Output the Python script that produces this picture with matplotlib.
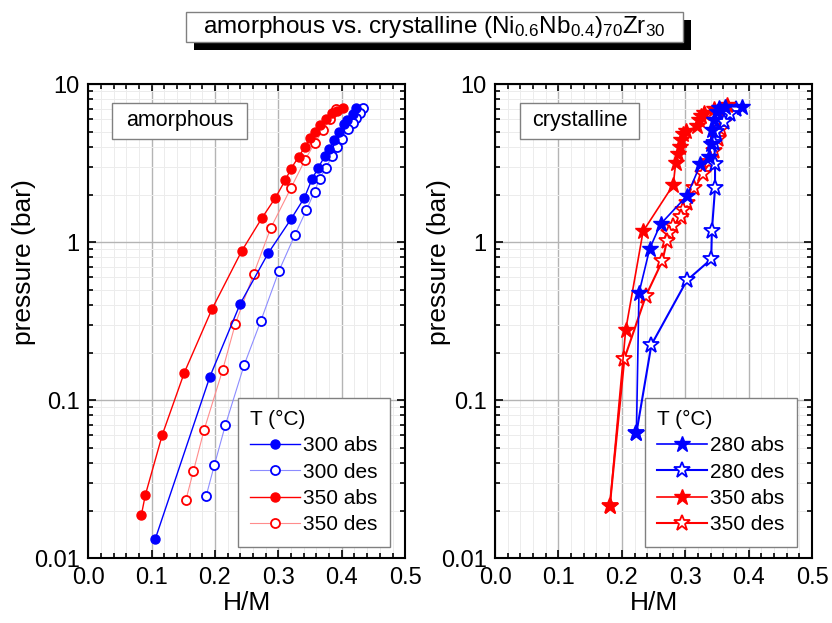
import matplotlib
matplotlib.use("Agg")
import matplotlib.pyplot as plt
from matplotlib.patches import Rectangle
from matplotlib.ticker import MultipleLocator, LogLocator, NullFormatter, FixedLocator, FixedFormatter

plt.rcParams['font.family'] = ['Liberation Sans', 'DejaVu Sans']
plt.rcParams['mathtext.fontset'] = 'custom'
plt.rcParams['mathtext.rm'] = 'Liberation Sans'
plt.rcParams['mathtext.it'] = 'Liberation Sans:italic'

# ---- amorphous data (H/M, pressure in bar) ----
abs300_x = [0.106, 0.192, 0.240, 0.284, 0.320, 0.341, 0.353, 0.3625, 0.373, 0.380, 0.388, 0.396, 0.403, 0.408, 0.417, 0.422]
abs300_p = [0.0133, 0.141, 0.409, 0.852, 1.40, 1.91, 2.50, 2.94, 3.49, 3.88, 4.43, 4.97, 5.59, 5.92, 6.46, 7.02]

des300_x = [0.434, 0.429, 0.423, 0.418, 0.410, 0.400, 0.392, 0.385, 0.375, 0.365, 0.357, 0.344, 0.326, 0.301, 0.272, 0.246, 0.2165, 0.199, 0.186]
des300_p = [7.02, 6.53, 6.07, 5.65, 5.17, 4.51, 3.98, 3.52, 2.96, 2.52, 2.09, 1.59, 1.11, 0.659, 0.315, 0.167, 0.0698, 0.0388, 0.0247]

abs350_x = [0.0838, 0.090, 0.117, 0.1515, 0.195, 0.242, 0.274, 0.295, 0.311, 0.320, 0.332, 0.342, 0.350, 0.358, 0.365, 0.375, 0.384, 0.393, 0.402]
abs350_p = [0.0187, 0.0250, 0.0606, 0.149, 0.375, 0.877, 1.42, 1.90, 2.47, 2.92, 3.47, 4.02, 4.58, 4.98, 5.48, 6.04, 6.53, 6.78, 7.08]

des350_x = [0.391, 0.381, 0.371, 0.357, 0.342, 0.320, 0.288, 0.261, 0.232, 0.212, 0.183, 0.166, 0.154]
des350_p = [6.92, 6.01, 5.14, 4.22, 3.31, 2.21, 1.23, 0.630, 0.303, 0.155, 0.0652, 0.0356, 0.0233]

# ---- crystalline data ----
abs280_x = [0.223, 0.227, 0.244, 0.261, 0.303, 0.324, 0.338, 0.340, 0.343, 0.346, 0.350, 0.354, 0.362, 0.390]
abs280_p = [0.062, 0.476, 0.911, 1.30, 1.97, 3.11, 3.47, 4.2, 5.12, 5.93, 6.68, 7.02, 7.19, 7.19]

des280_x = [0.380, 0.370, 0.3615, 0.349, 0.346, 0.347, 0.347, 0.342, 0.341, 0.3025, 0.2466, 0.223]
des280_p = [6.95, 6.5, 5.78, 5.0, 4.22, 3.11, 2.19, 1.18, 0.781, 0.572, 0.224, 0.062]

abs350c_x = [0.181, 0.206, 0.2335, 0.281, 0.285, 0.288, 0.291, 0.294, 0.297, 0.301, 0.319, 0.322, 0.325, 0.329, 0.345, 0.366]
abs350c_p = [0.0214, 0.277, 1.17, 2.30, 3.16, 3.6, 4.0, 4.4, 4.8, 5.05, 5.4, 5.9, 6.3, 6.6, 7.0, 7.4]

des350c_x = [0.368, 0.364, 0.360, 0.356, 0.351, 0.345, 0.338, 0.328, 0.3146, 0.3025, 0.297, 0.294, 0.280, 0.274, 0.271, 0.264, 0.238, 0.204, 0.181]
des350c_p = [7.1, 6.5, 5.8, 5.2, 4.5, 3.8, 3.2, 2.7, 2.19, 1.76, 1.60, 1.45, 1.27, 1.14, 1.01, 0.762, 0.458, 0.183, 0.0214]

x_ticks = [0.0, 0.1, 0.2, 0.3, 0.4, 0.5]
y_ticks = [0.01, 0.1, 1, 10]
y_labels = ['0.01', '0.1', '1', '10']

BLUE = '#0000ff'
RED = '#ff0000'

fig = plt.figure(figsize=(8.32, 6.23), dpi=100)
ax1 = fig.add_axes([0.106, 0.104, 0.381, 0.761])
ax2 = fig.add_axes([0.595, 0.104, 0.381, 0.761])


def style(ax, ylab_x):
    ax.set_yscale('log')
    ax.set_xlim(0, 0.5)
    ax.set_ylim(0.01, 10)
    ax.xaxis.set_major_locator(FixedLocator(x_ticks))
    ax.xaxis.set_major_formatter(FixedFormatter(['%.1f' % v for v in x_ticks]))
    ax.xaxis.set_minor_locator(MultipleLocator(0.02))
    ax.yaxis.set_major_locator(FixedLocator(y_ticks))
    ax.yaxis.set_major_formatter(FixedFormatter(y_labels))
    ax.yaxis.set_minor_locator(LogLocator(base=10, subs=range(2, 10)))
    ax.yaxis.set_minor_formatter(NullFormatter())
    ax.grid(True, which='major', color='#b4b4b4', lw=1.0, zorder=0)
    ax.grid(True, which='minor', color='#ececec', lw=0.7, zorder=0)
    ax.set_axisbelow(True)
    ax.tick_params(which='both', direction='in', top=True, right=True, labelsize=17, width=1.2)
    ax.tick_params(which='major', length=6, pad=6)
    ax.tick_params(which='minor', length=3.5)
    for s in ax.spines.values():
        s.set_linewidth(1.5)
    ax.set_xlabel('H/M', fontsize=19, labelpad=2)
    ax.set_ylabel('pressure (bar)', fontsize=19,
                  family=['Liberation Sans Narrow', 'Liberation Sans', 'DejaVu Sans'])
    ax.yaxis.set_label_coords(ylab_x, 0.625)


style(ax1, -0.165)
style(ax2, -0.14)

# amorphous panel
ax1.plot(abs300_x, abs300_p, '-o', color=BLUE, lw=1.0, ms=6.5, mec=BLUE, mfc=BLUE, label='300 abs', zorder=4)
ax1.plot(des300_x, des300_p, '-o', color='#8c8cff', lw=0.8, ms=6.5, mec=BLUE, mfc='white', mew=1.3, label='300 des', zorder=3)
ax1.plot(abs350_x, abs350_p, '-o', color=RED, lw=1.0, ms=6.5, mec=RED, mfc=RED, label='350 abs', zorder=4)
ax1.plot(des350_x, des350_p, '-o', color='#ff8c8c', lw=0.8, ms=6.5, mec=RED, mfc='white', mew=1.3, label='350 des', zorder=3)

# crystalline panel
ax2.plot(des350c_x, des350c_p, '-*', color=RED, lw=1.5, ms=12, mec=RED, mfc='white', mew=1.3, label='350 des', zorder=3)
ax2.plot(des280_x, des280_p, '-*', color=BLUE, lw=1.5, ms=12, mec=BLUE, mfc='white', mew=1.3, label='280 des', zorder=3)
ax2.plot(abs350c_x, abs350c_p, '-*', color=RED, lw=1.2, ms=12, mec=RED, mfc=RED, label='350 abs', zorder=4)
ax2.plot(abs280_x, abs280_p, '-*', color=BLUE, lw=1.2, ms=12, mec=BLUE, mfc=BLUE, label='280 abs', zorder=4)

for ax, order in ((ax1, ['300 abs', '300 des', '350 abs', '350 des']),
                  (ax2, ['280 abs', '280 des', '350 abs', '350 des'])):
    h, l = ax.get_legend_handles_labels()
    d = dict(zip(l, h))
    leg = ax.legend([d[k] for k in order], order, title='T (°C)', loc='lower right',
                    bbox_to_anchor=(0.953, 0.024), borderaxespad=0, fontsize=15,
                    title_fontsize=15, fancybox=False, framealpha=1, edgecolor='#808080',
                    handlelength=2.4, handletextpad=0.15, labelspacing=0.35,
                    borderpad=0.6, alignment='left')
    leg.get_frame().set_linewidth(1.0)

# inner label boxes
for ax, txt, x0, x1 in ((ax1, 'amorphous', 0.075, 0.50), (ax2, 'crystalline', 0.079, 0.455)):
    ax.add_patch(Rectangle((x0, 0.885), x1 - x0, 0.076, transform=ax.transAxes,
                           fc='white', ec='#808080', lw=1.0, zorder=6))
    ax.text((x0 + x1) / 2, 0.923, txt, transform=ax.transAxes, ha='center', va='center',
            fontsize=15.5, zorder=7)

# title box with shadow
fig.patches.append(Rectangle((0.2332, 0.9197), 0.597, 0.0482, transform=fig.transFigure,
                             fc='black', ec='black', lw=0, zorder=1))
fig.patches.append(Rectangle((0.2236, 0.9326), 0.597, 0.0482, transform=fig.transFigure,
                             fc='white', ec='#808080', lw=1.0, zorder=2))
fig.text(0.522, 0.9567, r'amorphous vs. crystalline (Ni$_{0.6}$Nb$_{0.4}$)$_{70}$Zr$_{30}$',
         ha='center', va='center', fontsize=17.5, zorder=3)

fig.savefig('out.png', dpi=100)
